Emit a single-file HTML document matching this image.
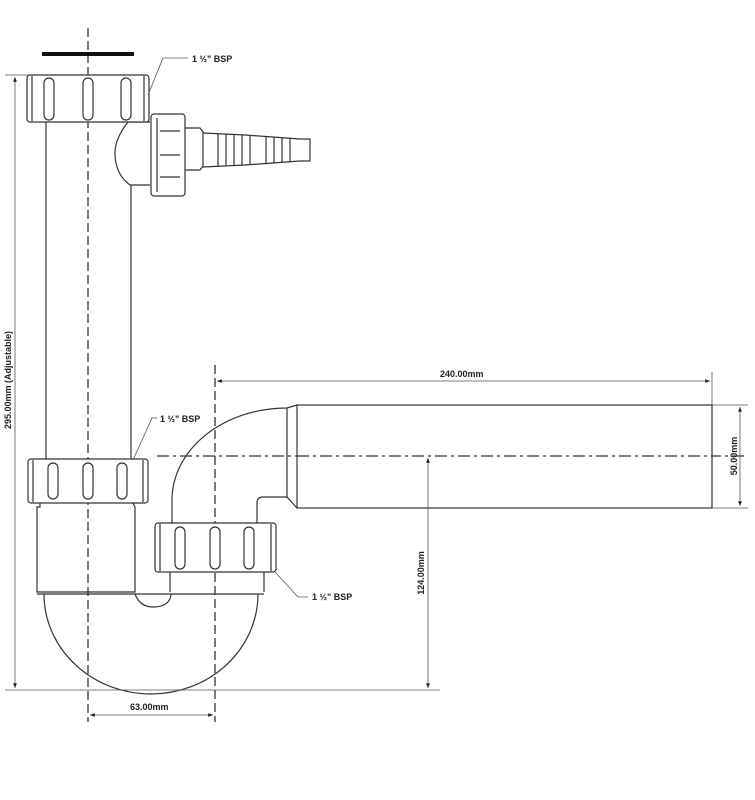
<!DOCTYPE html>
<html><head><meta charset="utf-8"><style>
html,body{margin:0;padding:0;background:#fff;}
svg{display:block}
text{font-family:"Liberation Sans",sans-serif;font-size:9px;font-weight:bold;fill:#222}
</style></head><body>
<svg width="755" height="800" viewBox="0 0 755 800" xmlns="http://www.w3.org/2000/svg">
<defs>
<marker id="a" viewBox="0 0 10 10" refX="10" refY="5" markerWidth="8" markerHeight="6" orient="auto-start-reverse"><path d="M0,1 L10,5 L0,9 z" fill="#222"/></marker>
</defs>
<g fill="none" stroke="#333" stroke-width="1.2">
<line x1="88" y1="28" x2="88" y2="722" stroke-dasharray="9,4" stroke-width="1.3"/>
<line x1="215" y1="365" x2="215" y2="722" stroke-dasharray="9,4" stroke-width="1.3"/>
<line x1="157" y1="456" x2="745" y2="456" stroke-dasharray="12,4,3,4"/>
<line x1="42" y1="54" x2="134" y2="54" stroke="#111" stroke-width="4"/>
<line x1="46" y1="122" x2="46" y2="459"/>
<line x1="131" y1="185" x2="131" y2="459"/>
<path d="M150,122 L128,122 Q114,140 115,155 Q116,175 130,185 L150,185" fill="#fff"/>
<rect x="27" y="75" width="122" height="47" rx="3" fill="#fff"/>
<line x1="32" y1="76" x2="32" y2="121"/><line x1="144" y1="76" x2="144" y2="121"/>
<rect x="44" y="78" width="10" height="42" rx="5"/>
<rect x="83" y="78" width="10" height="42" rx="5"/>
<rect x="121" y="78" width="10" height="42" rx="5"/>
<rect x="151" y="114" width="34" height="82" rx="3" fill="#fff"/>
<line x1="157" y1="118" x2="157" y2="192"/>
<line x1="160" y1="131" x2="180" y2="131"/><line x1="160" y1="155" x2="180" y2="155"/><line x1="160" y1="177" x2="180" y2="177"/>
<path d="M185,128 L200,128 L203,132 L203,166 L200,170 L185,170"/>
<path d="M203,133 L245,135 L300,139 L310,139 L310,161 L300,161 L245,165 L203,167"/>
<line x1="218" y1="134" x2="218" y2="166"/><line x1="226" y1="134" x2="226" y2="166"/><line x1="234" y1="135" x2="234" y2="165"/><line x1="242" y1="135" x2="242" y2="165"/><line x1="250" y1="136" x2="250" y2="164"/><line x1="266" y1="137" x2="266" y2="163"/><line x1="274" y1="137" x2="274" y2="163"/><line x1="282" y1="138" x2="282" y2="162"/><line x1="290" y1="138" x2="290" y2="162"/>
<rect x="28" y="459" width="120" height="44" rx="3" fill="#fff"/>
<line x1="33" y1="460" x2="33" y2="502"/><line x1="143" y1="460" x2="143" y2="502"/>
<rect x="48" y="463" width="10" height="36" rx="5"/>
<rect x="83" y="463" width="10" height="36" rx="5"/>
<rect x="117" y="463" width="10" height="36" rx="5"/>
<path d="M40,503 L40,507 L37,507 L37,592 L135,592 L135,507 L133,503"/>
<path d="M44,594 A107,100 0 0 0 258,594"/>
<line x1="37" y1="594" x2="264" y2="594"/>
<path d="M135,594 Q140,607 153,607 Q170,607 171,594"/>
<path d="M170,572 L170,592 M264,572 L264,592"/>
<path d="M172,523 L172,500 A115,92 0 0 1 287,408 L297,405"/>
<path d="M257,523 L257,503 Q257,497 263,497 L287,497 L297,508"/>
<line x1="287" y1="408" x2="287" y2="497"/>
<rect x="297" y="405" width="415" height="103" fill="#fff"/>
<line x1="297" y1="456" x2="712" y2="456" stroke-dasharray="12,4,3,4"/>
<rect x="155" y="523" width="121" height="49" rx="3" fill="#fff"/>
<line x1="160" y1="524" x2="160" y2="571"/><line x1="271" y1="524" x2="271" y2="571"/>
<rect x="175" y="527" width="10" height="42" rx="5"/>
<rect x="210" y="527" width="10" height="42" rx="5"/>
<rect x="244" y="527" width="10" height="42" rx="5"/>
</g>
<g fill="none" stroke="#555" stroke-width="0.8">
<line x1="5" y1="75" x2="30" y2="75"/>
<line x1="5" y1="690" x2="440" y2="690"/>
<line x1="15" y1="77" x2="15" y2="688" marker-start="url(#a)" marker-end="url(#a)"/>
<line x1="217" y1="381" x2="710" y2="381" marker-start="url(#a)" marker-end="url(#a)"/>
<line x1="712" y1="372" x2="712" y2="405"/>
<line x1="712" y1="405" x2="748" y2="405"/><line x1="712" y1="508" x2="748" y2="508"/>
<line x1="740" y1="407" x2="740" y2="506" marker-start="url(#a)" marker-end="url(#a)"/>
<line x1="428" y1="458" x2="428" y2="688" marker-start="url(#a)" marker-end="url(#a)"/>
<line x1="90" y1="715" x2="213" y2="715" marker-start="url(#a)" marker-end="url(#a)"/>
<polyline points="148,95 163,58 188,58"/>
<polyline points="133,460 152,418 157,418"/>
<polyline points="275,572 298,597 308,597"/>
</g>
<text x="192" y="62">1 ½" BSP</text>
<text x="160" y="422">1 ½" BSP</text>
<text x="312" y="600">1 ½" BSP</text>
<text x="440" y="377">240.00mm</text>
<text x="130" y="710">63.00mm</text>
<text transform="translate(11,380) rotate(-90)" text-anchor="middle">295.00mm (Adjustable)</text>
<text transform="translate(737,456) rotate(-90)" text-anchor="middle">50.00mm</text>
<text transform="translate(424,573) rotate(-90)" text-anchor="middle">124.00mm</text>
</svg>
</body></html>
